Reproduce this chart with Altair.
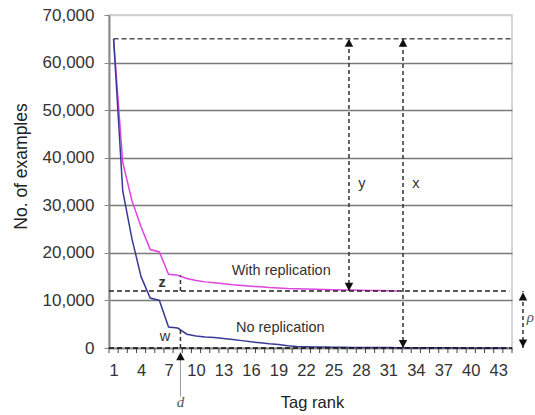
import altair as alt
import pandas as pd

# Tag-frequency curves
ranks = list(range(1, 45))
no_replication = [65000, 33000, 23000, 15000, 10500, 10000, 4400, 4200, 2900, 2500,
                  2300, 2200, 2000, 1800, 1550, 1300, 1100, 900, 750, 450,
                  300, 250, 220, 190, 170, 150, 130, 110, 100, 90,
                  80, 70, 60, 50, 45, 40, 35, 30, 25, 20, 15, 10, 5, 0]
with_replication = [65000, 39000, 31000, 25500, 20700, 20200, 15500, 15300, 14600, 14200,
                    13900, 13700, 13500, 13300, 13150, 13000, 12850, 12700, 12600, 12500,
                    12450, 12400, 12350, 12300, 12250, 12200, 12200, 12150, 12100, 12100,
                    12050, 12000]
series_names = ["With replication", "No replication"]
series_colors = ["#e044e0", "#3a3a96"]

x_ticks = list(range(1, 44, 3))
y_ticks = list(range(0, 70001, 10000))

# Reference levels and distances
peak = 65000
floor_rep = 12000
d_rank = 8.3
y_rank = 26.7
x_rank = 32.6
rho_rank = 45.7

W, H = 403, 333
X_DOMAIN = [0.5, 44.5]
Y_DOMAIN = [0, 70000]

curves = pd.DataFrame(
    [{"rank": r, "value": v, "series": series_names[0]} for r, v in zip(ranks, with_replication)]
    + [{"rank": r, "value": v, "series": series_names[1]} for r, v in zip(ranks, no_replication)]
)

xs = alt.Scale(domain=X_DOMAIN, nice=False, zero=False)
ys = alt.Scale(domain=Y_DOMAIN, nice=False)

font = "Liberation Sans"

x_axis = alt.Axis(values=x_ticks, ticks=False, grid=False, labelFontSize=16.5,
                  labelColor="#333333", labelPadding=14, labelFont=font,
                  labelOverlap=False, labelBound=False, labelFlush=False, format="d",
                  domainColor="#8a8a8a", domainWidth=1.5,
                  title="Tag rank", titleFont=font, titleFontSize=16.5,
                  titleFontWeight="normal", titleColor="#222222",
                  titleX=203, titleY=54, titleAlign="center", titleBaseline="middle")
y_axis = alt.Axis(values=y_ticks, format=",d", labelFontSize=17, labelColor="#333333",
                  labelFont=font, labelPadding=10, tickSize=5, tickColor="#8a8a8a",
                  labelOverlap=False,
                  domainColor="#8a8a8a", domainWidth=2,
                  grid=True,
                  gridColor={"condition": {"test": "datum.value >= 70000", "value": "#cfcfcf"},
                             "value": "#7a7a7a"},
                  gridWidth=1.3,
                  title="No. of examples", titleFont=font, titleFontSize=17.5,
                  titleFontWeight="normal", titleColor="#222222",
                  titleAngle=270, titleX=-88, titleY=151,
                  titleAlign="center", titleBaseline="middle")


def X(field):
    return alt.X(field, scale=xs, axis=x_axis)


def Y(field):
    return alt.Y(field, scale=ys, axis=y_axis)


lines = alt.Chart(curves).mark_line(strokeWidth=1.5).encode(
    x=X("rank:Q"), y=Y("value:Q"),
    color=alt.Color("series:N", scale=alt.Scale(domain=series_names, range=series_colors), legend=None),
    detail="series:N",
)

# Tick marks at category boundaries along the rank axis
bounds = pd.DataFrame({"b": [i + 0.5 for i in range(0, 45)]})
x_tickmarks = alt.Chart(bounds).mark_rule(color="#444444", strokeWidth=1).encode(
    x=X("b:Q"), y=alt.value(H), y2=alt.value(H + 5)
)

# Horizontal dashed reference lines
hlines = pd.DataFrame({
    "y": [peak, floor_rep, 0],
    "x0": [1, 0.5, 0.5],
    "x1": [44.5, 44.2, 44.5],
    "c": ["#555555", "#222222", "#111111"],
})
hdash = alt.Chart(hlines).mark_rule(strokeDash=[5, 3], strokeWidth=1.5).encode(
    x=X("x0:Q"), x2="x1:Q", y=Y("y:Q"),
    color=alt.Color("c:N", scale=None),
)

# Vertical dashed distance markers
vlines = pd.DataFrame({
    "x": [y_rank, x_rank, d_rank, d_rank, rho_rank],
    "y0": [floor_rep, 0, floor_rep, 0, 0],
    "y1": [peak, peak, with_replication[7], no_replication[7], floor_rep],
})
vdash = alt.Chart(vlines).mark_rule(strokeDash=[4, 3], strokeWidth=1.5, color="#333333").encode(
    x=X("x:Q"), y=Y("y0:Q"), y2="y1:Q"
)

# d pointer below the axis
d_line = pd.DataFrame({"x": [d_rank], "y0": [-10200], "y1": [-1500]})
d_rule = alt.Chart(d_line).mark_rule(strokeWidth=1, color="#9a9a9a").encode(
    x=X("x:Q"), y=Y("y0:Q"), y2="y1:Q"
)

up_head = "M0,0 L-1,1.9 L1,1.9 Z"
down_head = "M0,0 L-1,-1.9 L1,-1.9 Z"
heads_up = pd.DataFrame({"x": [y_rank, x_rank, rho_rank, d_rank],
                         "y": [peak, peak, floor_rep - 300, -900]})
heads_down = pd.DataFrame({"x": [y_rank, x_rank, rho_rank],
                           "y": [floor_rep, 0, 100]})
arrows_up = alt.Chart(heads_up).mark_point(shape=up_head, filled=True, size=72, color="#111111", opacity=1).encode(
    x=X("x:Q"), y=Y("y:Q")
)
arrows_down = alt.Chart(heads_down).mark_point(shape=down_head, filled=True, size=72, color="#111111", opacity=1).encode(
    x=X("x:Q"), y=Y("y:Q")
)

# Text annotations
labels = pd.DataFrame({
    "x": [19.3, 19.2, y_rank + 1.4, x_rank + 1.4, 6.6],
    "y": [16200, 4100, 34500, 34500, 2300],
    "t": ["With replication", "No replication", "y", "x", "w"],
})
texts = alt.Chart(labels).mark_text(font=font, fontSize=14.5, color="#333333", baseline="middle").encode(
    x=X("x:Q"), y=Y("y:Q"), text="t:N"
)
z_label = pd.DataFrame({"x": [6.3], "y": [13600], "t": ["z"]})
z_text = alt.Chart(z_label).mark_text(font=font, fontSize=14.5, fontWeight="bold", color="#333333",
                                      baseline="middle").encode(
    x=X("x:Q"), y=Y("y:Q"), text="t:N"
)

greek = pd.DataFrame({"x": [d_rank, 46.5], "y": [-11300, 6500], "t": ["d", "ρ"]})
greek_text = alt.Chart(greek).mark_text(font="Liberation Serif", fontStyle="italic", fontSize=15,
                                        color="#555555", baseline="middle").encode(
    x=X("x:Q"), y=Y("y:Q"), text="t:N"
)

chart = alt.layer(
    lines, x_tickmarks, hdash, vdash, d_rule, arrows_up, arrows_down, texts, z_text, greek_text
).properties(
    width=W, height=H,
    background="white",
    autosize=alt.AutoSizeParams(type="none"),
    padding={"left": 109, "top": 15, "right": 23, "bottom": 67},
).configure_view(
    stroke="#c8c8c8", strokeWidth=1.5
)

chart.save("out.html", embed_options={"renderer": "svg", "actions": False})
